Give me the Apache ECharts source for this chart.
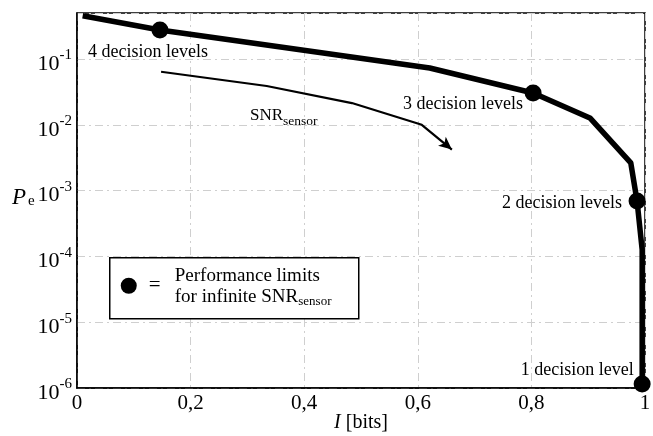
<!DOCTYPE html>
<html>
<head>
<meta charset="utf-8">
<script src="https://cdn.jsdelivr.net/npm/echarts@6/dist/echarts.min.js"></script>
<style>html,body{margin:0;padding:0;background:#fff;}#c{width:653px;height:436px;}</style>
</head>
<body>
<div id="c"></div>
<script>
// ---- data ----
const limitI  = [0.01, 0.146, 0.621, 0.803, 0.903, 0.975, 0.986, 0.995, 0.995];
const limitPe = [0.455, 0.276, 0.073, 0.0304, 0.0127, 0.00263, 0.000695, 0.000126, 0.00000115];
const snrI  = [0.148, 0.334, 0.484, 0.607, 0.660];
const snrPe = [0.064, 0.0389, 0.0214, 0.0100, 0.0042];
const dotI  = [0.146, 0.803, 0.986, 0.995];
const dotPe = [0.276, 0.0304, 0.000695, 0.00000115];
const dotLabels = ['4 decision levels', '3 decision levels', '2 decision levels', '1 decision level'];
const xTicks = [0, 0.2, 0.4, 0.6, 0.8, 1];
const yExponents = [-6, -5, -4, -3, -2, -1];

// ---- layout / style ----
const FONT = 'Liberation Serif';
const labelOffsets = [[-12, 22], [-70, 11], [-75, 2], [-65, -14]];

const chart = echarts.init(document.getElementById('c'), null, {renderer: 'canvas'});

const limitData = limitI.map((x, i) => [x, limitPe[i]]);
const snrData = snrI.map((x, i) => {
  const item = {value: [x, snrPe[i]]};
  if (i === snrI.length - 1) {
    item.symbol = 'arrow';
    item.symbolSize = [9, 13];
    item.symbolRotate = -130;
  }
  return item;
});
const dotData = dotI.map((x, i) => ({
  value: [x, dotPe[i]],
  label: {
    show: true,
    formatter: dotLabels[i],
    position: 'inside',
    offset: labelOffsets[i],
    fontFamily: FONT,
    fontSize: 18,
    color: '#000',
    opacity: 1
  }
}));

const option = {
  backgroundColor: '#fff',
  animation: false,
  grid: {left: 77, right: 8, top: 13, bottom: 48, show: true, borderColor: '#000', borderWidth: 1.5,
         containLabel: false, outerBoundsMode: 'none'},
  xAxis: {
    type: 'value', min: 0, max: 1, interval: 0.2,
    axisLine: {show: true, lineStyle: {color: '#000', width: 1.5}},
    axisTick: {show: false},
    splitLine: {show: true, lineStyle: {color: '#cfcfcf', width: 1, type: [8, 4, 2, 4]}},
    axisLabel: {
      fontFamily: FONT, fontSize: 21, color: '#000', margin: 5,
      formatter: v => {
        const r = Math.round(v * 10) / 10;
        return xTicks.some(t => Math.abs(t - r) < 1e-9) ? String(r).replace('.', ',') : '';
      }
    },
    name: '{i|I} [bits]',
    nameLocation: 'middle',
    nameGap: 25,
    nameMoveOverlap: false,
    nameTextStyle: {
      fontFamily: FONT, fontSize: 20, color: '#000',
      rich: {i: {fontFamily: FONT, fontSize: 20, fontStyle: 'italic', color: '#000'}}
    }
  },
  yAxis: {
    type: 'log', logBase: 10, min: 0.000001, max: 0.5, interval: 1,
    axisLine: {show: true, lineStyle: {color: '#000', width: 1.5}},
    axisTick: {show: false},
    splitLine: {show: true, lineStyle: {color: '#cfcfcf', width: 1, type: [8, 4, 2, 4]}},
    axisLabel: {
      margin: 5,
      showMaxLabel: false,
      formatter: v => {
        const e = Math.log10(v);
        const r = Math.round(e);
        if (Math.abs(e - r) > 1e-6 || yExponents.indexOf(r) < 0) return '';
        return '{b|10}{s|' + r + '}';
      },
      rich: {
        b: {fontFamily: FONT, fontSize: 22, lineHeight: 22, padding: [10, 0, 0, 0], color: '#000'},
        s: {fontFamily: FONT, fontSize: 15, lineHeight: 15, verticalAlign: 'top', color: '#000'}
      }
    }
  },
  series: [
    {
      name: 'Performance limit', type: 'line', data: limitData,
      showSymbol: false, symbol: 'none',
      lineStyle: {color: '#000', width: 5.5, join: 'round'},
      z: 3, clip: false
    },
    {
      name: 'SNR sensor', type: 'line', data: snrData,
      symbol: 'none', showSymbol: true,
      itemStyle: {color: '#000'},
      lineStyle: {color: '#000', width: 2.2},
      z: 3, clip: false
    },
    {
      name: 'Performance limits for infinite SNR', type: 'scatter', data: dotData,
      symbol: 'circle', symbolSize: 17,
      itemStyle: {color: '#000', opacity: 1},
      z: 5, clip: false
    }
  ],
  graphic: [
    {
      type: 'text', left: 250, top: 107, z: 50,
      style: {
        text: 'SNR{sub|sensor}',
        fontFamily: FONT, fontSize: 17, fill: '#000',
        rich: {sub: {fontFamily: FONT, fontSize: 13.5, padding: [11, 0, 0, 0], verticalAlign: 'bottom'}}
      }
    },
    {
      type: 'text', left: 12, top: 176, z: 50,
      style: {
        text: '{p|P}{e|e}',
        rich: {
          p: {fontFamily: FONT, fontSize: 23, fontStyle: 'italic', lineHeight: 23, fill: '#000', verticalAlign: 'top'},
          e: {fontFamily: FONT, fontSize: 15, lineHeight: 15, padding: [18, 0, 0, 2], fill: '#000', verticalAlign: 'bottom'}
        }
      }
    },
    {
      type: 'group', left: 109, top: 257, z: 100,
      children: [
        {type: 'rect', shape: {x: 0, y: 0, width: 249, height: 61}, style: {fill: '#fff', stroke: '#000', lineWidth: 1.5}, z: 100},
        {type: 'circle', shape: {cx: 19, cy: 28, r: 8}, style: {fill: '#000'}, z: 101},
        {type: 'text', x: 39, y: 17, style: {text: '=', fontFamily: FONT, fontSize: 21, fill: '#000'}, z: 101},
        {type: 'text', x: 65, y: 8, z: 101,
          style: {
            text: 'Performance limits\nfor infinite SNR{sub|sensor}',
            fontFamily: FONT, fontSize: 19, lineHeight: 21, fill: '#000',
            rich: {sub: {fontFamily: FONT, fontSize: 13, padding: [11, 0, 0, 0], verticalAlign: 'bottom'}}
          }
        }
      ]
    }
  ]
};
chart.setOption(option);
</script>
</body>
</html>
